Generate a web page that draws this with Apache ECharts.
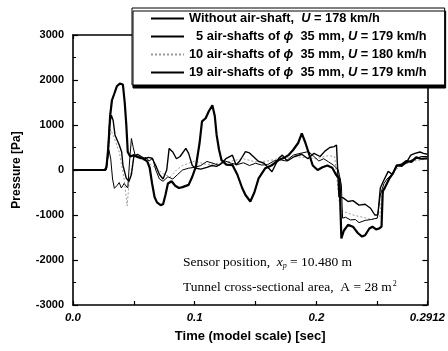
<!DOCTYPE html>
<html>
<head>
<meta charset="utf-8">
<script src="https://cdn.jsdelivr.net/npm/echarts@6/dist/echarts.min.js"></script>
<style>
  html, body { margin: 0; padding: 0; background: #fff; }
  #chart { width: 448px; height: 351px; }
</style>
</head>
<body>
<div id="chart"></div>
<script>
// [time (s), pressure (Pa)]
const withoutShaft = [
  [0, 0], [0.026, 0], [0.0275, 60], [0.029, 500], [0.0305, 1200], [0.032, 1550], [0.034, 1700],
  [0.036, 1860], [0.0385, 1920], [0.041, 1900], [0.0425, 1500], [0.0438, 1000], [0.045, 400],
  [0.047, 300], [0.05, 330], [0.054, 280], [0.058, 250], [0.061, 190], [0.063, 50], [0.065, -300],
  [0.067, -600], [0.069, -720], [0.072, -780], [0.074, -760], [0.076, -550], [0.078, -300],
  [0.081, -250], [0.084, -350], [0.087, -400], [0.09, -380], [0.095, -330], [0.098, -150],
  [0.101, 80], [0.104, 600], [0.106, 1080], [0.109, 1150], [0.1115, 1300], [0.1145, 1440],
  [0.1165, 1200], [0.118, 780], [0.12, 450], [0.122, 220], [0.126, 120], [0.131, 110],
  [0.135, -100], [0.139, -400], [0.1417, -555], [0.1457, -700], [0.149, -500], [0.1525, -185],
  [0.158, 40], [0.163, 100], [0.169, 220], [0.174, 280], [0.177, 330], [0.181, 450], [0.185, 600],
  [0.188, 815], [0.191, 600], [0.194, 350], [0.197, 100], [0.201, 0], [0.205, 60], [0.209, 100],
  [0.213, 50], [0.216, -100], [0.219, -200], [0.2205, -1520], [0.2225, -1350], [0.226, -1220],
  [0.23, -1260], [0.234, -1400], [0.2375, -1480], [0.24, -1450], [0.2435, -1300], [0.246, -1260],
  [0.249, -1320], [0.2515, -1300], [0.2535, -1260], [0.2545, -480], [0.257, -350], [0.26, -185],
  [0.263, -70], [0.266, 100], [0.27, 120], [0.274, 200], [0.278, 180], [0.282, 280], [0.286, 250],
  [0.2912, 260]
];
const shafts5 = [
  [0, 0], [0.027, 0], [0.0285, 300], [0.03, 1000], [0.0315, 1220], [0.033, 1100], [0.0345, 780],
  [0.036, 750], [0.038, 555], [0.04, 400], [0.041, 110], [0.0438, -185], [0.046, -250],
  [0.048, -100], [0.05, 300], [0.053, 350], [0.056, 300], [0.059, 250], [0.062, 280], [0.065, 260],
  [0.068, 100], [0.071, -100], [0.074, -200], [0.077, 0], [0.079, 480], [0.082, 400], [0.085, 250],
  [0.088, 300], [0.0927, 480], [0.095, 370], [0.098, 100], [0.101, 40], [0.105, 20], [0.11, 60],
  [0.114, 100], [0.118, 80], [0.122, 150], [0.126, 260], [0.131, 330], [0.134, 110], [0.137, 200],
  [0.1417, 410], [0.145, 380], [0.1525, 190], [0.157, 150], [0.1635, -40], [0.169, 260],
  [0.172, 330], [0.176, 200], [0.182, 300], [0.188, 350], [0.193, 250], [0.198, 370], [0.203, 300],
  [0.207, 420], [0.211, 500], [0.2145, 520], [0.2165, 555], [0.2185, -590], [0.222, -620],
  [0.226, -700], [0.23, -680], [0.235, -780], [0.24, -760], [0.2445, -850], [0.248, -1000],
  [0.2505, -1000], [0.2525, -400], [0.255, -250], [0.259, -30], [0.2625, -100], [0.266, 110],
  [0.27, 80], [0.2745, 190], [0.2775, 330], [0.281, 370], [0.285, 400], [0.288, 370], [0.2912, 350]
];
const shafts10 = [
  [0, 0], [0.027, 0], [0.029, 400], [0.031, 900], [0.034, 700], [0.038, 400], [0.042, -200],
  [0.0445, -800], [0.046, -300], [0.05, 300], [0.055, 250], [0.06, 200], [0.065, 100], [0.07, 0],
  [0.075, -100], [0.08, -150], [0.085, 0], [0.09, 100], [0.095, 150], [0.1, 200], [0.11, 120],
  [0.12, 150], [0.13, 200], [0.14, 250], [0.15, 180], [0.16, 200], [0.17, 260], [0.18, 300],
  [0.19, 280], [0.2, 250], [0.21, 320], [0.215, 300], [0.2195, -900], [0.225, -950], [0.23, -1000],
  [0.238, -1050], [0.245, -1100], [0.252, -1050], [0.2535, -600], [0.26, -200], [0.265, 0],
  [0.27, 100], [0.28, 200], [0.2912, 250]
];
const shafts19 = [
  [0, 0], [0.027, 0], [0.028, 150], [0.0295, 450], [0.031, 250], [0.0325, -200], [0.034, -407],
  [0.036, -350], [0.038, -280], [0.0397, -400], [0.042, -300], [0.045, -400], [0.0465, 200],
  [0.048, 700], [0.0495, 500], [0.051, 330], [0.054, 300], [0.057, 250], [0.06, 280], [0.0625, 200],
  [0.0655, 260], [0.068, 0], [0.071, -200], [0.074, -250], [0.078, -150], [0.082, -200],
  [0.086, -100], [0.09, 0], [0.095, 40], [0.1, 60], [0.105, 100], [0.11, 190], [0.115, 150],
  [0.12, 100], [0.125, 200], [0.13, 150], [0.135, 120], [0.14, 160], [0.145, 100], [0.15, 150],
  [0.155, 110], [0.16, 120], [0.165, 200], [0.17, 230], [0.175, 200], [0.181, 330], [0.185, 360],
  [0.1935, 410], [0.198, 300], [0.202, 200], [0.206, 250], [0.21, 180], [0.214, 110], [0.218, 0],
  [0.2205, -333], [0.2215, -1070], [0.224, -1050], [0.228, -1110], [0.232, -1100], [0.235, -1170],
  [0.24, -1120], [0.245, -1100], [0.25, -1070], [0.2525, -555], [0.2555, -300], [0.258, -200],
  [0.262, -100], [0.266, 80], [0.27, 100], [0.274, 150], [0.278, 220], [0.282, 250], [0.286, 300],
  [0.2912, 300]
];

const seriesNames = [
  "Without air-shaft, U = 178 km/h",
  "5 air-shafts of ϕ 35 mm, U = 179 km/h",
  "10 air-shafts of ϕ 35 mm, U = 180 km/h",
  "19 air-shafts of ϕ 35 mm, U = 179 km/h"
];
const legendRich = [
  "Without air-shaft,  {i|U} = 178 km/h",
  "  5 air-shafts of {i|ϕ}  35 mm, {i|U} = 179 km/h",
  "10 air-shafts of {i|ϕ}  35 mm, {i|U} = 180 km/h",
  "19 air-shafts of {i|ϕ}  35 mm, {i|U} = 179 km/h"
];
const xLabels = { "0": "0.0", "0.1": "0.1", "0.2": "0.2", "0.2912": "0.2912" };

const sans = "'Liberation Sans', Arial, sans-serif";
const serif = "'Liberation Serif', 'Times New Roman', serif";

const chart = echarts.init(document.getElementById("chart"), null, { renderer: "canvas" });

const axisLine = { show: true, onZero: false, lineStyle: { color: "#000", width: 1.6 } };
const tick = { show: true, inside: true, length: 5, lineStyle: { color: "#000", width: 1.2 } };

chart.setOption({
  backgroundColor: "#fff",
  animation: false,
  grid: { left: 73, right: 18, top: 35, bottom: 46 },
  legend: {
    orient: "vertical",
    left: 132,
    top: 8,
    padding: [4, 18, 6, 18],
    itemWidth: 33,
    itemHeight: 13,
    itemGap: 5,
    backgroundColor: "#fff",
    borderColor: "#000",
    borderWidth: 1,
    shadowColor: "#000",
    shadowBlur: 0,
    shadowOffsetX: 1,
    shadowOffsetY: 3,
    itemStyle: { opacity: 0 },
    data: seriesNames,
    formatter: (name) => legendRich[seriesNames.indexOf(name)],
    textStyle: {
      color: "#000",
      fontFamily: sans,
      fontWeight: "bold",
      fontSize: 12.8,
      lineHeight: 13,
      rich: {
        i: { fontFamily: sans, fontWeight: "bold", fontStyle: "italic", fontSize: 12.8, lineHeight: 13, color: "#000" }
      }
    }
  },
  xAxis: [
    {
      type: "value",
      min: 0,
      max: 0.2912,
      interval: 0.05,
      name: "Time (model scale) [sec]",
      nameLocation: "middle",
      nameGap: 25,
      nameTextStyle: { color: "#000", fontFamily: sans, fontWeight: "bold", fontSize: 13 },
      axisLine,
      axisTick: { ...tick, length: 4 },
      splitLine: { show: false },
      axisLabel: {
        color: "#000",
        fontFamily: sans,
        fontWeight: "bold",
        fontStyle: "italic",
        fontSize: 11.5,
        margin: 7,
        showMaxLabel: true,
        formatter: (v) => {
          const k = Object.keys(xLabels).find((s) => Math.abs(parseFloat(s) - v) < 1e-6);
          return k === undefined ? "" : xLabels[k];
        }
      }
    },
    {
      type: "value",
      position: "top",
      min: 0,
      max: 0.2912,
      interval: 0.05,
      axisLine,
      axisTick: { ...tick, length: 4 },
      axisLabel: { show: false },
      splitLine: { show: false }
    }
  ],
  yAxis: [
    {
      type: "value",
      min: -3000,
      max: 3000,
      interval: 1000,
      name: "Pressure [Pa]",
      nameLocation: "middle",
      nameGap: 50,
      nameTextStyle: { color: "#000", fontFamily: sans, fontWeight: "bold", fontSize: 12 },
      axisLine,
      axisTick: tick,
      minorTick: { show: true, splitNumber: 2, length: 3, lineStyle: { color: "#000", width: 1 } },
      splitLine: { show: false },
      axisLabel: {
        color: "#000", fontFamily: sans, fontWeight: "bold", fontSize: 11, margin: 9,
        formatter: (v) => String(v)
      }
    },
    {
      type: "value",
      position: "right",
      min: -3000,
      max: 3000,
      interval: 1000,
      axisLine,
      axisTick: tick,
      minorTick: { show: true, splitNumber: 2, length: 3, lineStyle: { color: "#000", width: 1 } },
      axisLabel: { show: false },
      splitLine: { show: false }
    }
  ],
  series: [
    {
      name: seriesNames[2], type: "line", data: shafts10, symbol: "none", z: 1,
      itemStyle: { color: "#9a9a9a" },
      lineStyle: { color: "#9a9a9a", width: 1, type: [2, 2] }
    },
    {
      name: seriesNames[3], type: "line", data: shafts19, symbol: "none", z: 2,
      itemStyle: { color: "#000" },
      lineStyle: { color: "#000", width: 1 }
    },
    {
      name: seriesNames[1], type: "line", data: shafts5, symbol: "none", z: 3,
      itemStyle: { color: "#000" },
      lineStyle: { color: "#000", width: 1.4 }
    },
    {
      name: seriesNames[0], type: "line", data: withoutShaft, symbol: "none", z: 4,
      itemStyle: { color: "#000" },
      lineStyle: { color: "#000", width: 2.2 }
    }
  ],
  graphic: [
    {
      type: "text", left: 183, top: 255,
      style: {
        text: "Sensor position,  {i|x}{sub|p} = 10.480 m",
        fill: "#000", font: "13.5px " + serif,
        rich: {
          i: { fontFamily: serif, fontStyle: "italic", fontSize: 13.5, fill: "#000" },
          sub: { fontFamily: serif, fontStyle: "italic", fontSize: 8, verticalAlign: "bottom", padding: [7, 0, 0, 0] }
        }
      }
    },
    {
      type: "text", left: 183, top: 280,
      style: {
        text: "Tunnel cross-sectional area,  A = 28 m{sup|2}",
        fill: "#000", font: "13.5px " + serif,
        rich: {
          sup: { fontFamily: serif, fontSize: 8, verticalAlign: "top", padding: [0, 0, 7, 1] }
        }
      }
    }
  ]
});
</script>
</body>
</html>
